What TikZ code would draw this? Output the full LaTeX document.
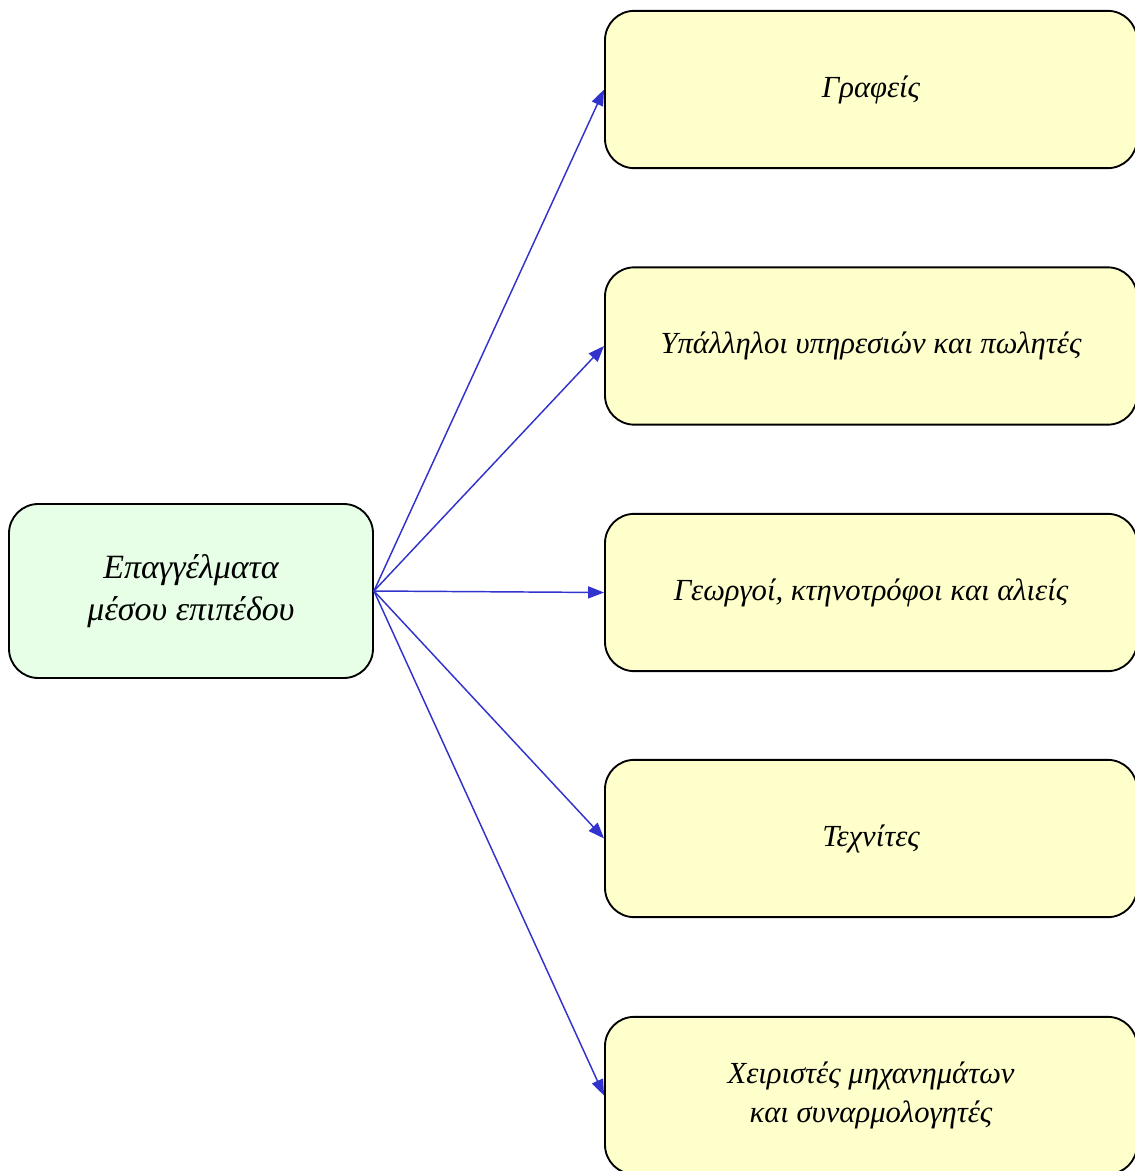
\documentclass[tikz,border=0pt]{standalone}
\usepackage{fontspec}
\setmainfont{Liberation Serif}
\usetikzlibrary{arrows.meta}
\definecolor{greenfill}{RGB}{230,255,230}
\definecolor{yellowfill}{RGB}{255,255,204}
\definecolor{arrowblue}{RGB}{50,50,205}
\begin{document}
\begin{tikzpicture}[x=0.75pt,y=-0.75pt,
  basebox/.style={draw=black, line width=1.4pt, rounded corners=22pt, align=center,
    inner sep=0pt},
  srcbox/.style={basebox, fill=greenfill, minimum width=273pt, minimum height=130.5pt,
    font=\fontsize{25.5}{31.5}\selectfont\itshape},
  dstbox/.style={basebox, fill=yellowfill, minimum width=399pt, minimum height=118pt,
    font=\fontsize{23}{29}\selectfont\itshape},
  link/.style={draw=arrowblue, line width=1.1pt, -{Triangle[length=12pt,width=9pt]}}]
\useasboundingbox (0,0) rectangle (1135,1171);
\node[srcbox] (src) at (191,591) {Επαγγέλματα\\μέσου επιπέδου};
\node[dstbox] (d1) at (871,89.5) {Γραφείς};
\node[dstbox] (d2) at (871,346) {Υπάλληλοι υπηρεσιών και πωλητές};
\node[dstbox] (d3) at (871,592.5) {Γεωργοί, κτηνοτρόφοι και αλιείς};
\node[dstbox] (d4) at (871,838.5) {Τεχνίτες};
\node[dstbox] (d5) at (871,1095.5) {Χειριστές μηχανημάτων\\και συναρμολογητές};
\foreach \d in {d1,d2,d3,d4,d5}
  \draw[link] (src.east) -- (\d.west);
\end{tikzpicture}
\end{document}
